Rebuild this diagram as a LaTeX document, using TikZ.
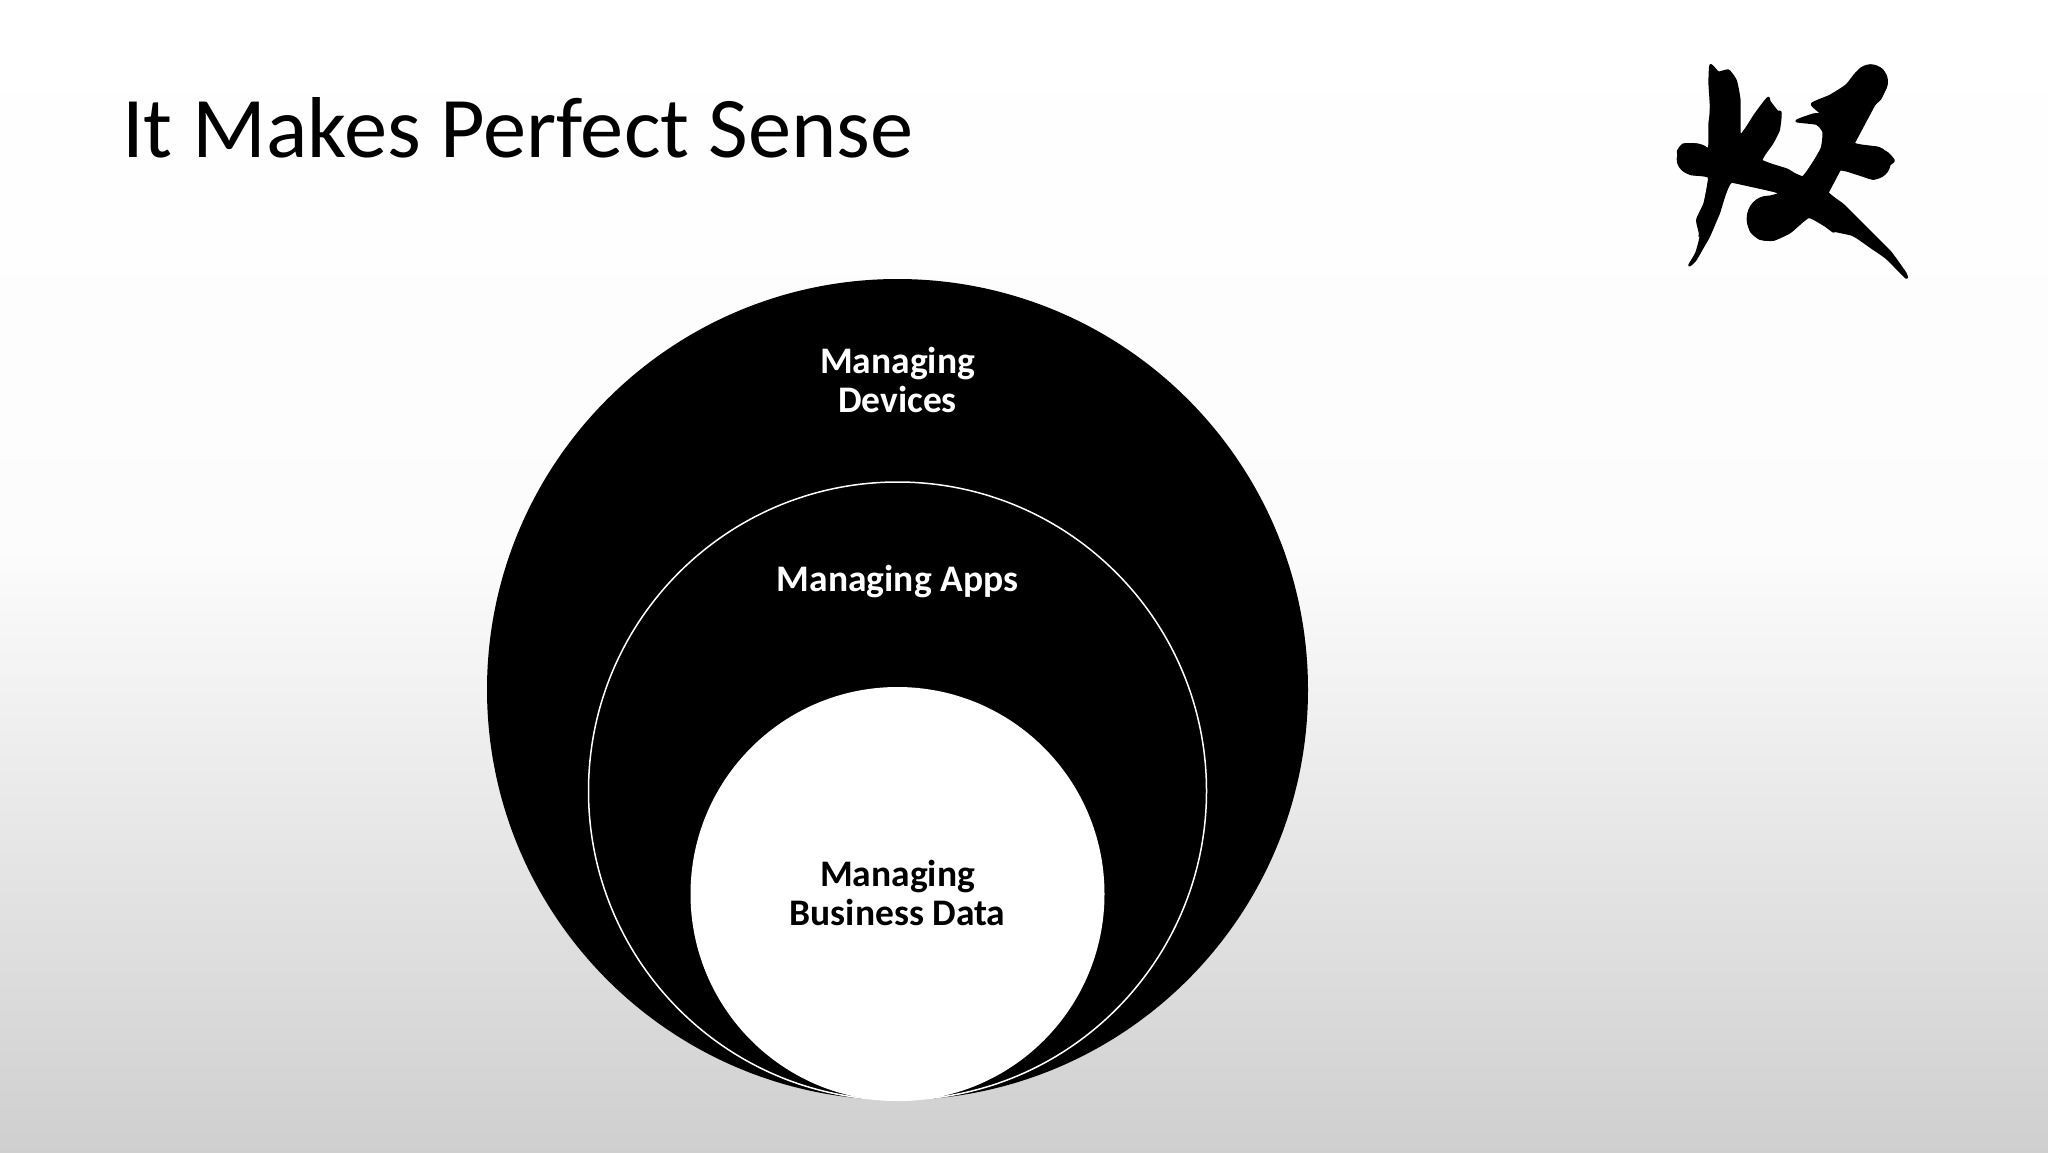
\documentclass[tikz,border=0pt]{standalone}
\usepackage{fontspec}
\setmainfont{Carlito}
\definecolor{bgTop}{HTML}{FFFFFF}
\definecolor{bgMid}{HTML}{FCFCFC}
\definecolor{bgBot}{HTML}{CFCFCF}
\pgfdeclareverticalshading{pagebg}{100bp}{
 color(0bp)=(bgBot); color(25bp)=(bgBot); color(51.1bp)=(bgMid); color(75bp)=(bgTop); color(100bp)=(bgTop)}
\tikzset{
 x=1pt,y=-1pt,
 lbl/.style={font=\bfseries\fontsize{37.5}{39}\selectfont,align=center,inner sep=0pt},
 disc/.style={circle,inner sep=0pt,minimum size=#1},
}
\begin{document}
\begin{tikzpicture}
\useasboundingbox (0,0) rectangle (2048,1152);
\shade[shading=pagebg] (0,0) rectangle (2048,1152);
\node[anchor=base west,inner sep=0pt,font=\fontsize{86.4}{100}\selectfont,text=black] (title) at (122,157) {It Makes Perfect Sense};
\node[disc=821pt,fill=black] (outer) at (897.5,689.5) {};
\node[disc=618pt,fill=black,draw=white,line width=1.5pt] (middle) at (897.5,791) {};
\node[disc=414pt,fill=white] (inner) at (897.5,894) {};
\node[lbl,text=white] (devices) at (897.5,379.5) {Managing\\Devices};
\node[lbl,text=white] (apps) at (897.5,582) {Managing Apps};
\node[lbl,text=black] (data) at (897.5,893) {Managing\\Business Data};
\begin{scope}[shift={(1640,40)},x=0.3333pt,y=-0.3333pt]
\filldraw[black,line join=round,line width=2.5pt] plot[smooth cycle,tension=0.3] coordinates {
(212,76)(235,98)(265,92)(287,122)(298,180)(300,290)(345,225)(385,174)(390,220)(421,216)(416,270)(396,310)(364,362)(440,389)(489,412)(544,330)(551,276)(530,251)(470,243)(520,224)(546,222)(516,192)(570,168)(620,136)(650,99)(690,77)(726,90)(739,130)(721,175)(676,220)(640,309)(700,322)(741,339)(761,362)(746,375)(721,406)(700,416)(620,391)(594,391)(562,456)(610,496)(680,566)(750,636)(796,700)(798,712)(740,654)(690,619)(650,591)(600,566)(580,574)(550,551)(505,531)(450,576)(400,599)(360,596)(334,575)(324,540)(344,499)(380,474)(420,458)(275,424)(236,520)(206,590)(186,625)(165,661)(148,676)(169,640)(182,590)(172,540)(194,490)(207,411)(150,401)(124,370)(114,335)(130,314)(170,314)(207,326)(209,250)(214,210)(209,130)};
\fill[black] (692,125) ellipse [x radius=52, y radius=52];
\fill[black] (385,535) ellipse [x radius=65, y radius=68];
\fill[black] (165,358) ellipse [x radius=55, y radius=48];
\fill[black] (700,368) ellipse [x radius=52, y radius=50];
\fill[black] (205,325)--(365,360)--(490,410)--(560,460)--(505,530)--(420,460)--(275,428)--(205,412)--cycle;
\fill[black] (558,460)--(680,570)--(740,640)--(650,590)--(580,575)--(505,530)--cycle;
\fill[black] (212,100)--(290,130)--(300,290)--(270,430)--(205,590)--(175,590)--(205,415)--(208,250)--cycle;
\fill[black] (300,285)--(385,175)--(420,220)--(415,275)--(365,360)--cycle;
\fill[black] (650,110)--(730,150)--(650,300)--(560,470)--(470,560)--(400,520)--(490,420)--(545,320)--cycle;
\end{scope}
\end{tikzpicture}
\end{document}
